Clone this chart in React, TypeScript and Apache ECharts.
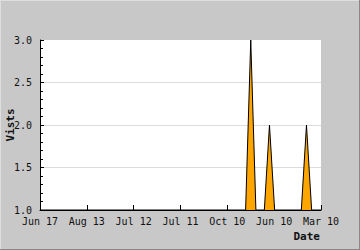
import React, { useEffect, useRef } from "react";
import * as echarts from "echarts";

const tickLabels = ["Jun 17", "Aug 13", "Jul 12", "Jul 11", "Oct 10", "Jun 10", "Mar 10"];
const sampleX = [0, 4.39, 4.5, 4.61, 4.79, 4.9, 5.01, 5.58, 5.69, 5.8, 6];
const visits = [1, 1, 3, 1, 1, 2, 1, 1, 2, 1, 1];
const yMin = 1;
const yMax = 3;
const yStep = 0.5;

const FONT = "'DejaVu Sans Mono', monospace";

export default function App() {
  const ref = useRef<HTMLDivElement>(null);
  useEffect(() => {
    if (!ref.current) return;
    const chart = echarts.init(ref.current, null, { renderer: "svg" });
    const data = sampleX.map((x, i) => [x, visits[i]]);
    chart.setOption({
      animation: false,
      backgroundColor: "#c8c8c8",
      grid: { left: 40, top: 40, width: 281, height: 170, backgroundColor: "#ffffff", show: true, borderWidth: 0 },
      xAxis: {
        type: "value",
        min: 0,
        max: tickLabels.length - 1,
        interval: 1,
        axisLine: { show: true, lineStyle: { color: "#000", width: 1 } },
        axisTick: { show: true, inside: true, length: 5, lineStyle: { color: "#000" } },
        splitLine: { show: false },
        axisLabel: {
          margin: 6,
          color: "#111",
          fontFamily: FONT,
          fontSize: 10,
          formatter: (v: number) => tickLabels[Math.round(v)] ?? "",
        },
      },
      yAxis: {
        type: "value",
        min: yMin,
        max: yMax,
        interval: yStep,
        axisLine: { show: true, lineStyle: { color: "#000", width: 1 } },
        axisTick: { show: true, inside: true, length: 4, lineStyle: { color: "#000" } },
        minorTick: { show: true, splitNumber: 5, length: 3, lineStyle: { color: "#000" } },
        splitLine: { show: true, showMinLine: false, showMaxLine: false, lineStyle: { color: "#dcdcdc", width: 1 } },
        axisLabel: {
          margin: 8,
          color: "#111",
          fontFamily: FONT,
          fontSize: 10,
          formatter: (v: number) => v.toFixed(1),
        },
      },
      series: [
        {
          type: "line",
          data,
          symbol: "none",
          lineStyle: { color: "#000", width: 1 },
          areaStyle: { color: "#ffa500", opacity: 1, origin: "start" },
          clip: true,
        },
      ],
      graphic: [
        { type: "line", shape: { x1: 0, y1: 0.5, x2: 360, y2: 0.5 }, style: { stroke: "#dedede", lineWidth: 1 } },
        { type: "line", shape: { x1: 0.5, y1: 0, x2: 0.5, y2: 250 }, style: { stroke: "#dedede", lineWidth: 1 } },
        { type: "line", shape: { x1: 0, y1: 249.5, x2: 360, y2: 249.5 }, style: { stroke: "#888888", lineWidth: 1 } },
        { type: "line", shape: { x1: 359.5, y1: 0, x2: 359.5, y2: 250 }, style: { stroke: "#888888", lineWidth: 1 } },
        {
          type: "text",
          x: 320,
          y: 236,
          style: { text: "Date", font: `bold 11px ${FONT}`, fill: "#111", textAlign: "right", textVerticalAlign: "middle" },
        },
        {
          type: "text",
          x: 10,
          y: 125,
          rotation: Math.PI / 2,
          style: { text: "Vists", font: `bold 11px ${FONT}`, fill: "#111", textAlign: "center", textVerticalAlign: "middle" },
        },
      ],
    });
    return () => chart.dispose();
  }, []);
  return <div ref={ref} style={{ position: "fixed", left: 0, top: 0, width: 360, height: 250 }} />;
}
